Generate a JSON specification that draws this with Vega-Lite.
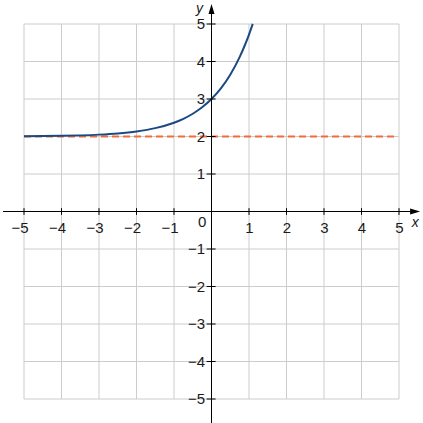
{
  "$schema": "https://vega.github.io/schema/vega-lite/v6.json",
  "width": 423,
  "height": 423,
  "autosize": {"type": "none"},
  "padding": 0,
  "background": "white",
  "config": {"view": {"stroke": null}},
  "datasets": {
    "grid": [
      {"v": -5, "label": "−5"}, {"v": -4, "label": "−4"}, {"v": -3, "label": "−3"},
      {"v": -2, "label": "−2"}, {"v": -1, "label": "−1"}, {"v": 0, "label": "0"},
      {"v": 1, "label": "1"}, {"v": 2, "label": "2"}, {"v": 3, "label": "3"},
      {"v": 4, "label": "4"}, {"v": 5, "label": "5"}
    ],
    "curve": [
      {"x": -5, "y": 2.007}, {"x": -4.5, "y": 2.011}, {"x": -4, "y": 2.018},
      {"x": -3.5, "y": 2.03}, {"x": -3, "y": 2.05}, {"x": -2.5, "y": 2.082},
      {"x": -2, "y": 2.135}, {"x": -1.5, "y": 2.223}, {"x": -1, "y": 2.368},
      {"x": -0.75, "y": 2.472}, {"x": -0.5, "y": 2.607}, {"x": -0.25, "y": 2.779},
      {"x": 0, "y": 3.0}, {"x": 0.25, "y": 3.284}, {"x": 0.5, "y": 3.649},
      {"x": 0.75, "y": 4.117}, {"x": 0.9, "y": 4.46}, {"x": 1.0, "y": 4.718},
      {"x": 1.1, "y": 5.004}
    ],
    "one": [{"k": 1}]
  },
  "layer": [
    {
      "data": {"name": "grid"},
      "mark": {"type": "rule", "color": "#cccccc", "strokeWidth": 1},
      "encoding": {
        "x": {"field": "v", "type": "quantitative", "scale": {"domain": [-5.64, 5.64], "nice": false, "zero": false}, "axis": null},
        "y": {"datum": -5, "type": "quantitative", "scale": {"domain": [-5.64, 5.64], "nice": false, "zero": false}, "axis": null},
        "y2": {"datum": 5}
      }
    },
    {
      "data": {"name": "grid"},
      "mark": {"type": "rule", "color": "#cccccc", "strokeWidth": 1},
      "encoding": {
        "y": {"field": "v", "type": "quantitative"},
        "x": {"datum": -5, "type": "quantitative"},
        "x2": {"datum": 5}
      }
    },
    {
      "data": {"name": "one"},
      "mark": {"type": "rule", "color": "#f26b3a", "strokeWidth": 2, "strokeDash": [7, 4]},
      "encoding": {
        "x": {"datum": -5, "type": "quantitative"},
        "x2": {"datum": 4.92},
        "y": {"datum": 2, "type": "quantitative"}
      }
    },
    {
      "data": {"name": "curve"},
      "mark": {"type": "line", "color": "#1b4a82", "strokeWidth": 2, "interpolate": "monotone"},
      "encoding": {
        "x": {"field": "x", "type": "quantitative"},
        "y": {"field": "y", "type": "quantitative"}
      }
    },
    {
      "data": {"name": "one"},
      "mark": {"type": "rule", "color": "black", "strokeWidth": 1},
      "encoding": {
        "x": {"datum": -5.56, "type": "quantitative"},
        "x2": {"datum": 5.36},
        "y": {"datum": 0, "type": "quantitative"}
      }
    },
    {
      "data": {"name": "one"},
      "mark": {"type": "rule", "color": "black", "strokeWidth": 1},
      "encoding": {
        "y": {"datum": -5.64, "type": "quantitative"},
        "y2": {"datum": 5.32},
        "x": {"datum": 0, "type": "quantitative"}
      }
    },
    {
      "data": {"name": "grid"},
      "transform": [{"filter": "datum.v != 0"}],
      "mark": {"type": "rule", "color": "black", "strokeWidth": 1},
      "encoding": {
        "x": {"field": "v", "type": "quantitative"},
        "y": {"datum": -0.09, "type": "quantitative"},
        "y2": {"datum": 0.09}
      }
    },
    {
      "data": {"name": "grid"},
      "transform": [{"filter": "datum.v != 0"}],
      "mark": {"type": "rule", "color": "black", "strokeWidth": 1},
      "encoding": {
        "y": {"field": "v", "type": "quantitative"},
        "x": {"datum": -0.13, "type": "quantitative"},
        "x2": {"datum": 0.11}
      }
    },
    {
      "data": {"name": "one"},
      "mark": {"type": "point", "shape": "M0,-1L0.6,1L-0.6,1Z", "filled": true, "size": 100, "color": "black", "opacity": 1},
      "encoding": {
        "x": {"datum": 0, "type": "quantitative"},
        "y": {"datum": 5.4, "type": "quantitative"}
      }
    },
    {
      "data": {"name": "one"},
      "mark": {"type": "point", "shape": "M1,0L-1,0.6L-1,-0.6Z", "filled": true, "size": 100, "color": "black", "opacity": 1},
      "encoding": {
        "x": {"datum": 5.43, "type": "quantitative"},
        "y": {"datum": 0, "type": "quantitative"}
      }
    },
    {
      "data": {"name": "grid"},
      "transform": [{"filter": "datum.v != 0"}],
      "mark": {"type": "text", "font": "Liberation Sans", "fontSize": 15, "color": "#1a1a1a", "align": "right", "baseline": "middle", "dx": 4.5},
      "encoding": {
        "x": {"field": "v", "type": "quantitative"},
        "y": {"datum": -0.45, "type": "quantitative"},
        "text": {"field": "label"}
      }
    },
    {
      "data": {"name": "grid"},
      "transform": [{"filter": "datum.v != 0"}],
      "mark": {"type": "text", "font": "Liberation Sans", "fontSize": 15, "color": "#1a1a1a", "align": "right", "baseline": "middle"},
      "encoding": {
        "y": {"field": "v", "type": "quantitative"},
        "x": {"datum": -0.17, "type": "quantitative"},
        "text": {"field": "label"}
      }
    },
    {
      "data": {"name": "grid"},
      "transform": [{"filter": "datum.v == 0"}],
      "mark": {"type": "text", "font": "Liberation Sans", "fontSize": 15, "color": "#1a1a1a", "align": "center", "baseline": "middle"},
      "encoding": {
        "x": {"datum": -0.25, "type": "quantitative"},
        "y": {"datum": -0.28, "type": "quantitative"},
        "text": {"field": "label"}
      }
    },
    {
      "data": {"values": [{"t": "x", "px": 5.43, "py": -0.4}, {"t": "y", "px": -0.32, "py": 5.288}]},
      "mark": {"type": "text", "font": "Liberation Sans", "fontSize": 14, "fontStyle": "italic", "color": "#1a1a1a", "align": "center", "baseline": "alphabetic"},
      "encoding": {
        "x": {"field": "px", "type": "quantitative"},
        "y": {"field": "py", "type": "quantitative"},
        "text": {"field": "t"}
      }
    }
  ]
}
